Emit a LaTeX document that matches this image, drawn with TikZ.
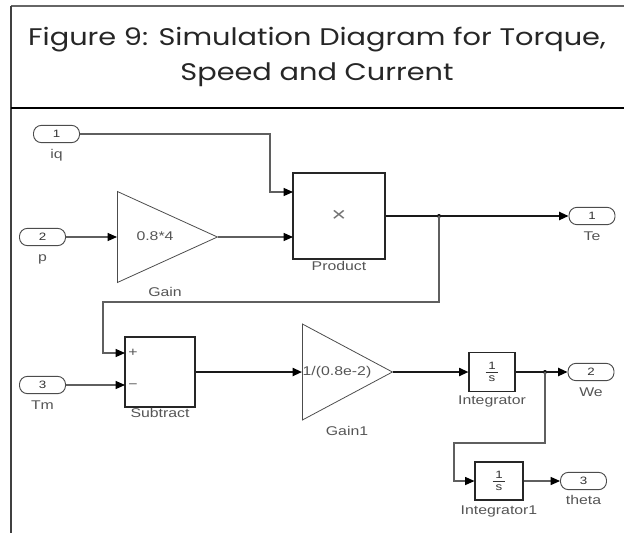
\documentclass[tikz,border=0pt]{standalone}
\usepackage{fontspec}
\setmainfont{Liberation Sans}
\newfontfamily\titlefont[FakeStretch=1.2]{Poppins}
\newfontfamily\simfont[FakeStretch=1.25]{Liberation Sans}
\usetikzlibrary{positioning,arrows.meta,shapes.geometric}
\definecolor{WireGray}{RGB}{95,95,95}
\definecolor{LabelGray}{RGB}{85,85,85}

\begin{document}
\begin{tikzpicture}[x=0.75pt, y=-0.75pt,
    node distance=3pt,
    frame/.style={draw=black!75, line width=1.2pt},
    titletext/.style={font=\titlefont\fontsize{18}{26}\selectfont, text=black!85,
        align=center, inner sep=0pt},
    port/.style={rectangle, rounded corners=6pt, draw=black!70, line width=0.7pt,
        minimum width=34.5pt, minimum height=13pt, inner sep=0pt,
        font=\simfont\fontsize{8}{8}\selectfont, text=black!80},
    block/.style={rectangle, draw=black!85, line width=0.8pt, inner sep=0pt},
    gainblk/.style={isosceles triangle, isosceles triangle stretches, draw=black!70,
        line width=0.6pt, inner sep=0pt, anchor=lower side},
    frac/.style={align=center, font=\simfont\fontsize{8}{9}\selectfont, text=black!80},
    lbl/.style={font=\simfont\fontsize{9.5}{10}\selectfont, text=LabelGray, inner sep=0pt,
        text height=7pt, text depth=2pt},
    wire/.style={draw=WireGray, line width=0.9pt, -{Triangle[length=7pt, width=6pt, color=black]}},
    bus/.style={draw=black!90, line width=1.4pt, -{Triangle[length=7pt, width=6pt, color=black]}},
    dot/.style={circle, fill=black, inner sep=0pt, minimum size=3pt},
]
\useasboundingbox (0,0) rectangle (624,533);

% frame and title
\draw[frame, draw=black!60] (11,6) -- (624,6);
\draw[frame] (11,6) -- (11,533);
\draw[draw=black, line width=2pt] (11,108) -- (624,108);
\node[titletext] (title) at (317,57) {Figure 9: Simulation Diagram for Torque,\\Speed and Current};

% torque part
\node[port] (iq) at (56.5,134) {1};
\node[lbl, below=4pt of iq] (iqlbl) {iq};
\node[port] (p) at (42.5,237) {2};
\node[lbl, below=4pt of p] (plbl) {p};
\node[gainblk, minimum height=75pt, minimum width=68.25pt] (gain) at (117,237) {};
\node[lbl] (gaintxt) at (155,237) {0.8*4};
\node[lbl, anchor=north] (gainlbl) at (165,287) {Gain};
\node[block, minimum width=69pt, minimum height=64.5pt, font=\simfont\fontsize{15}{15}\selectfont,
    text=black!55] (product) at (339,216) {×};
\node[lbl, below=1pt of product] (prodlbl) {Product};
\coordinate (prodin1) at (293,192);
\coordinate (prodin2) at (293,237);
\node[port] (te) at (592,216) {1};
\node[lbl, below=4pt of te] (telbl) {Te};
\node[dot] (br1) at (439,216) {};

% speed part
\node[port] (tm) at (42.5,385) {3};
\node[lbl, below=4pt of tm] (tmlbl) {Tm};
\node[block, minimum width=52.5pt, minimum height=52.5pt] (subtract) at (160,372) {};
\node[lbl] (plus) at (133,353) {+};
\node[lbl] (minus) at (133,385) {−};
\node[lbl, below=0.5pt of subtract] (sublbl) {Subtract};
\coordinate (subin1) at (125,353);
\coordinate (subin2) at (125,385);
\node[gainblk, minimum height=67.5pt, minimum width=72pt] (gainone) at (302,372) {};
\node[lbl] (gainonetxt) at (337,372) {1/(0.8e-2)};
\node[lbl, anchor=north] (gainonelbl) at (347,426) {Gain1};
\node[block, frac, minimum width=34.5pt, minimum height=29.25pt] (integ) at (492,372)
    {\underline{\hspace{2pt}1\hspace{2pt}}\\[-0.5pt]s};
\node[lbl, below=2.5pt of integ] (integlbl) {Integrator};
\node[port] (we) at (591,372) {2};
\node[lbl, below=4.5pt of we] (welbl) {We};
\node[dot] (br2) at (545,372) {};

% angle part
\node[block, frac, minimum width=36pt, minimum height=28.5pt] (integone) at (499,481)
    {\underline{\hspace{2pt}1\hspace{2pt}}\\[-0.5pt]s};
\node[lbl, below=3pt of integone] (integonelbl) {Integrator1};
\node[port] (theta) at (583.5,481) {3};
\node[lbl, below=3.5pt of theta] (thetalbl) {theta};

% connections
\draw[wire] (iq.east) -- (270,134) |- (prodin1);
\draw[wire] (p.east) -- (gain.lower side);
\draw[wire] (gain.apex) -- (prodin2);
\draw[bus] (product.east) -- (te.west);
\draw[wire] (br1.center) -- (439,302) -- (103,302) |- (subin1);
\draw[wire] (tm.east) -- (subin2);
\draw[bus] (subtract.east) -- (gainone.lower side);
\draw[bus] (gainone.apex) -- (integ.west);
\draw[bus] (integ.east) -- (we.west);
\draw[wire] (br2.center) -- (545,443) -- (454,443) |- (integone.west);
\draw[wire] (integone.east) -- (theta.west);
\end{tikzpicture}
\end{document}
